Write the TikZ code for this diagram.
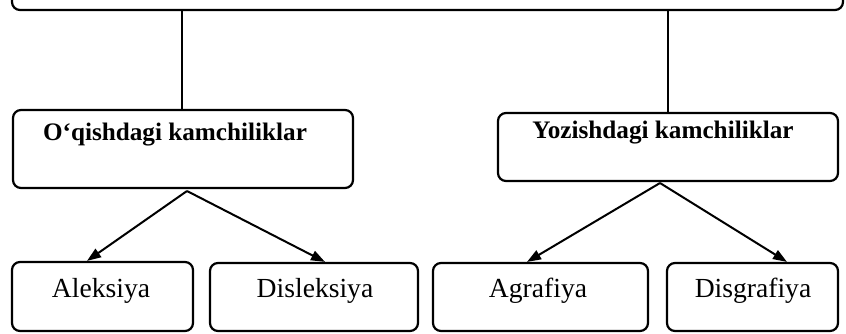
\documentclass[tikz,border=0pt]{standalone}
\usepackage{fontspec}
\setmainfont{Liberation Serif}
\usetikzlibrary{arrows.meta}
\begin{document}
\begin{tikzpicture}[x=0.5pt,y=-0.5pt,
  box/.style={draw, line width=1.1pt, rounded corners=4pt, inner sep=0pt},
  conn/.style={line width=1pt},
  arr/.style={line width=1pt, -{Triangle[length=7pt,width=5pt]}},
  head/.style={font=\bfseries\fontsize{12.6}{14}\selectfont, inner sep=0pt},
  leaf/.style={font=\fontsize{13.8}{16}\selectfont, inner sep=0pt}]
\useasboundingbox (0,0) rectangle (846,333);
\clip (0,0) rectangle (846,333);
% top box (cut off)
\node[box, minimum width=415.5pt, minimum height=20pt] (top) at (427.5,-10) {};
% middle boxes
\node[box, minimum width=170pt, minimum height=39pt] (m1) at (183,149) {};
\node[box, minimum width=170pt, minimum height=34pt] (m2) at (668,147) {};
\node[head] (t1) at (175,135) {O‘qishdagi kamchiliklar};
\node[head] (t2) at (663,133) {Yozishdagi kamchiliklar};
% bottom boxes
\node[box, minimum width=90.5pt, minimum height=34.5pt] (b1) at (102.5,296.5) {};
\node[box, minimum width=104pt, minimum height=34pt] (b2) at (314,297) {};
\node[box, minimum width=107.5pt, minimum height=34pt] (b3) at (540.5,297) {};
\node[box, minimum width=85.5pt, minimum height=34pt] (b4) at (752.5,297) {};
\node[leaf] (l1) at (101,291) {Aleksiya};
\node[leaf] (l2) at (315,291) {Disleksiya};
\node[leaf] (l3) at (538,291) {Agrafiya};
\node[leaf] (l4) at (753,291) {Disgrafiya};
% vertical connectors
\coordinate (v1) at (182,10);
\coordinate (v2) at (668,10);
\draw[conn] (v1) -- (v1 |- m1.north);
\draw[conn] (v2) -- (v2 |- m2.north);
% arrows
\coordinate (s1) at (187,191);
\coordinate (s2) at (660,183);
\coordinate (e1) at (87,262);
\coordinate (e2) at (325,263);
\coordinate (e3) at (527,263);
\coordinate (e4) at (787,263);
\draw[arr] (s1) -- (e1 |- b1.north);
\draw[arr] (s1) -- (e2 |- b2.north);
\draw[arr] (s2) -- (e3 |- b3.north);
\draw[arr] (s2) -- (e4 |- b4.north);
\end{tikzpicture}
\end{document}
